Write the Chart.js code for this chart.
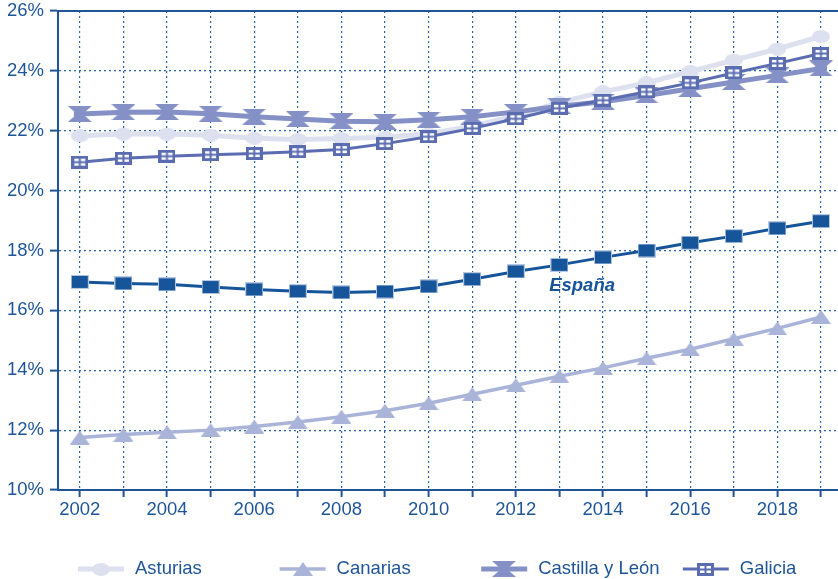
<!DOCTYPE html>
<html><head><meta charset="utf-8">
<script src="https://cdn.jsdelivr.net/npm/chart.js@4.4.1/dist/chart.umd.min.js"></script>
<style>html,body{margin:0;padding:0;background:#fff;overflow:hidden}#wrap{width:838px;height:579px;position:relative}</style>
</head><body><div id="wrap"><canvas id="c" width="838" height="579"></canvas></div>
<script>
const years = [2002,2003,2004,2005,2006,2007,2008,2009,2010,2011,2012,2013,2014,2015,2016,2017,2018,2019];
const yTickValues = [10,12,14,16,18,20,22,24,26];
const seriesNames = ['Asturias','Canarias','Castilla y León','Galicia'];
const asturias = [21.83,21.89,21.89,21.85,21.75,21.71,21.74,21.78,21.9,22.15,22.5,22.95,23.3,23.6,23.98,24.36,24.73,25.15];
const canarias = [11.75,11.85,11.93,12.0,12.12,12.27,12.45,12.65,12.9,13.2,13.5,13.8,14.08,14.4,14.7,15.05,15.4,15.78];
const castilla = [22.56,22.62,22.63,22.57,22.47,22.39,22.32,22.3,22.37,22.47,22.63,22.82,22.97,23.18,23.4,23.63,23.85,24.08];
const galicia = [20.95,21.08,21.15,21.2,21.24,21.3,21.37,21.57,21.8,22.08,22.4,22.75,23.02,23.3,23.6,23.93,24.25,24.58];
const espana = [16.95,16.9,16.87,16.78,16.7,16.64,16.6,16.63,16.8,17.04,17.3,17.52,17.77,18.0,18.26,18.48,18.74,18.98];
const espanaLabel = 'España';

// font detection (narrow font if available)
const mc = document.createElement('canvas').getContext('2d');
mc.font = '100px "Liberation Sans Narrow"'; const wN = mc.measureText('2002 Castilla').width;
mc.font = '100px "Liberation Sans"'; const wR = mc.measureText('2002 Castilla').width;
const hasNarrow = wN < wR * 0.9;
const FF = hasNarrow ? '"Liberation Sans Narrow", "Liberation Sans", Arial, sans-serif' : '"Liberation Sans", Arial, sans-serif';
const FS = hasNarrow ? 21 : 18.5;
const TXT = '#1f5597';
const GRID = '#2a63a8';

const C_AST = '#dde0ee', C_CAN = '#aab4d8', C_CYL = '#8591c6', C_GAL = '#5b6db0', C_ESP = '#16559a';

function mk(w, h, draw) { const c = document.createElement('canvas'); c.width = w; c.height = h; draw(c.getContext('2d'), w, h); return c; }
const mAst = mk(18, 13, (g, w, h) => { g.fillStyle = C_AST; g.beginPath(); g.ellipse(w/2, h/2, w/2, h/2, 0, 0, Math.PI*2); g.fill(); });
const mCan = mk(20, 14, (g, w, h) => { g.fillStyle = C_CAN; g.beginPath(); g.moveTo(0, h); g.lineTo(w/2, 0); g.lineTo(w, h); g.closePath(); g.fill(); });
const mCyl = mk(24, 16, (g, w, h) => { g.fillStyle = C_CYL; g.beginPath(); g.moveTo(0,0); g.lineTo(w,0); g.lineTo(w/2+3, h/2); g.lineTo(w, h); g.lineTo(0, h); g.lineTo(w/2-3, h/2); g.closePath(); g.fill(); g.fillRect(w/2-6, h/2-2, 12, 4); });
const mGal = mk(17, 13, (g, w, h) => { g.fillStyle = C_GAL; g.fillRect(0,0,w,h); g.fillStyle = '#fff'; g.fillRect(3,3,4.5,2.5); g.fillRect(9.5,3,4.5,2.5); g.fillRect(3,7.5,4.5,2.5); g.fillRect(9.5,7.5,4.5,2.5); });
const mEsp = mk(18, 14, (g, w, h) => { g.fillStyle = '#b7c8e2'; g.fillRect(0,0,w,h); g.fillStyle = C_ESP; g.fillRect(1,1,w-2,h-2); });

const pts = arr => arr.map((v, i) => ({x: years[i], y: v}));
const defs = [
  {label: seriesNames[0], data: asturias, color: C_AST, w: 5, marker: mAst, order: 4},
  {label: seriesNames[1], data: canarias, color: C_CAN, w: 3.5, marker: mCan, order: 3},
  {label: seriesNames[2], data: castilla, color: C_CYL, w: 5, marker: mCyl, order: 2},
  {label: seriesNames[3], data: galicia, color: C_GAL, w: 3, marker: mGal, order: 1},
  {label: espanaLabel, data: espana, color: C_ESP, w: 3, marker: mEsp, order: 0}
];

const overlay = {
  id: 'overlay',
  beforeDatasetsDraw(chart) {
    const ctx = chart.ctx, a = chart.chartArea;
    ctx.save(); ctx.strokeStyle = TXT; ctx.lineWidth = 2;
    ctx.beginPath(); ctx.moveTo(a.left - 1, a.top); ctx.lineTo(a.right, a.top); ctx.stroke(); ctx.restore();
  },
  afterDraw(chart) {
    const ctx = chart.ctx, xs = chart.scales.x, ys = chart.scales.y;
    ctx.save();
    ctx.fillStyle = C_ESP; ctx.font = 'italic bold ' + FS + 'px ' + FF;
    ctx.textAlign = 'center'; ctx.textBaseline = 'middle';
    ctx.fillText(espanaLabel, xs.getPixelForValue(2013.52), ys.getPixelForValue(16.82));
    // legend
    const ly = 569;
    ctx.font = FS + 'px ' + FF; ctx.textAlign = 'left'; ctx.textBaseline = 'middle';
    for (let i = 0; i < 4; i++) {
      const d = defs[i]; const cx = 101 + i * 201.6;
      ctx.strokeStyle = d.color; ctx.lineWidth = d.w;
      ctx.beginPath(); ctx.moveTo(cx - 23, ly); ctx.lineTo(cx + 23, ly); ctx.stroke();
      ctx.drawImage(d.marker, Math.round(cx - d.marker.width/2), Math.round(ly - d.marker.height/2));
      ctx.fillStyle = TXT; ctx.fillText(d.label, cx + 34, ly);
    }
    ctx.restore();
  }
};

new Chart(document.getElementById('c'), {
  type: 'line',
  data: {
    datasets: defs.map(d => ({
      label: d.label, data: pts(d.data), borderColor: d.color, backgroundColor: d.color,
      borderWidth: d.w, pointStyle: d.marker, pointRadius: 8, tension: 0, order: d.order, fill: false, clip: false
    }))
  },
  options: {
    responsive: false, animation: false, devicePixelRatio: 1,
    layout: {autoPadding: false, padding: {left: 0, right: 0, top: 11, bottom: 0}},
    plugins: {legend: {display: false}, tooltip: {enabled: false}},
    scales: {
      x: {
        type: 'linear', min: 2001.5, max: 2019.39,
        afterBuildTicks: s => { s.ticks = years.map(v => ({value: v})); },
        afterFit: s => { s.height = 89; s.paddingLeft = 0; s.paddingRight = 0; },
        ticks: {autoSkip: false, maxRotation: 0, color: TXT, font: {family: FF, size: FS}, padding: 2,
          callback: v => (v % 2 === 0 ? String(v) : '')},
        grid: {color: GRID, lineWidth: 1.2, tickLength: 7, tickColor: TXT, tickWidth: 2},
        border: {display: true, color: TXT, width: 2, dash: [2, 3]}
      },
      y: {
        min: 10, max: 26,
        afterBuildTicks: s => { s.ticks = yTickValues.map(v => ({value: v})); },
        afterFit: s => { s.width = 58; s.paddingTop = 0; s.paddingBottom = 0; },
        ticks: {color: TXT, font: {family: FF, size: FS, lineHeight: 1}, padding: 6, callback: v => v + '%'},
        grid: {color: GRID, lineWidth: 1.2, tickLength: 8, tickColor: TXT, tickWidth: 2},
        border: {display: true, color: TXT, width: 2, dash: [2, 3]}
      }
    }
  },
  plugins: [overlay]
});
</script></body></html>
